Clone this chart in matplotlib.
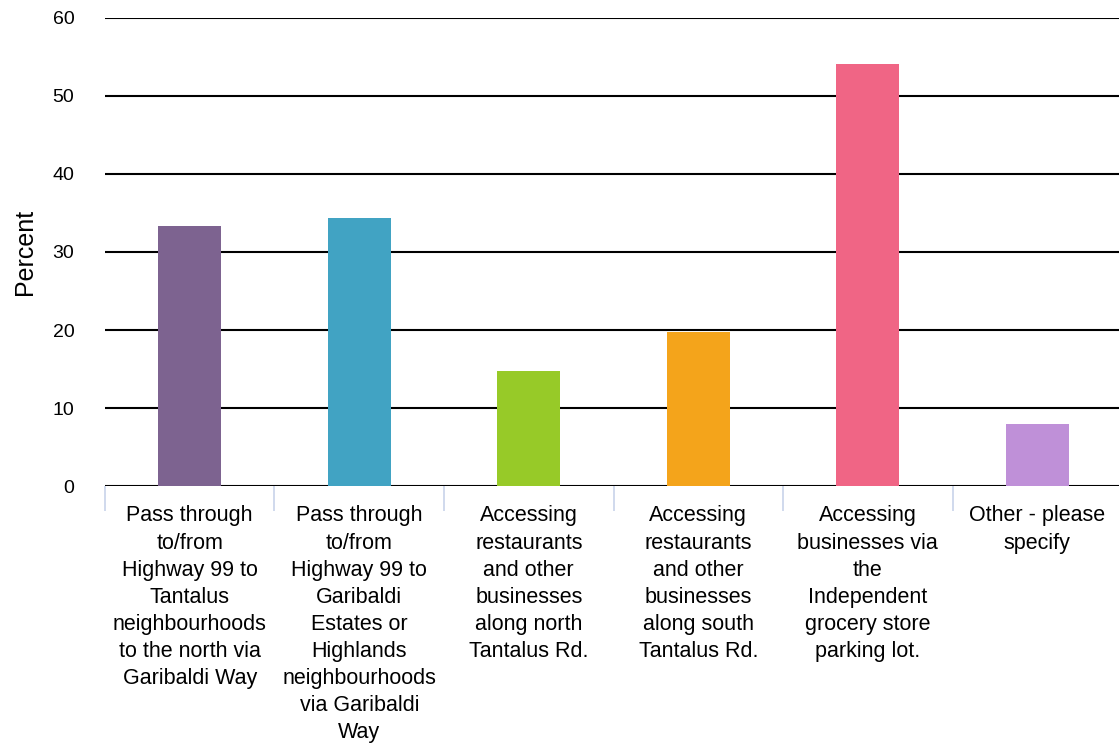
import numpy as np
import matplotlib
matplotlib.use("Agg")
import matplotlib.pyplot as plt

categories = [
    "Pass through\nto/from\nHighway 99 to\nTantalus\nneighbourhoods\nto the north via\nGaribaldi Way",
    "Pass through\nto/from\nHighway 99 to\nGaribaldi\nEstates or\nHighlands\nneighbourhoods\nvia Garibaldi\nWay",
    "Accessing\nrestaurants\nand other\nbusinesses\nalong north\nTantalus Rd.",
    "Accessing\nrestaurants\nand other\nbusinesses\nalong south\nTantalus Rd.",
    "Accessing\nbusinesses via\nthe\nIndependent\ngrocery store\nparking lot.",
    "Other - please\nspecify",
]
percent = [33.3, 34.4, 14.8, 19.8, 54.1, 7.9]
colors = ["#7d6390", "#41a3c3", "#97ca28", "#f4a41b", "#f06585", "#bf90d8"]
yticks = [0, 10, 20, 30, 40, 50, 60]

plt.rcParams['font.family'] = ['Liberation Sans', 'DejaVu Sans']

fig = plt.figure(figsize=(11.19, 7.46), dpi=100)
ax = fig.add_axes([0.0938, 0.3485, 0.909, 0.6274])

x = np.arange(len(percent))
ax.bar(x, percent, width=0.37, color=colors, zorder=3)

ax.set_ylim(0, 60)
ax.set_xlim(-0.5, len(percent) - 0.5)
ax.set_yticks(yticks)
ax.yaxis.grid(True, color="black", linewidth=1.5, zorder=1)
ax.set_axisbelow(True)
for s in ax.spines.values():
    s.set_visible(False)
ax.tick_params(axis="y", length=0, pad=22, labelsize=14)
ax.set_ylabel("Percent", fontsize=18, labelpad=11)

ax.set_xticks(x)
ax.set_xticklabels(categories, fontsize=15.5, va="top")
for lab in ax.get_xticklabels():
    lab.set_linespacing(1.38)
ax.tick_params(axis="x", which="major", length=0, pad=14)
ax.set_xticks(np.arange(len(percent) + 1) - 0.5, minor=True)
ax.tick_params(axis="x", which="minor", length=18, width=1.2, color="#c8d3ea")

fig.savefig("out.png", dpi=100)
